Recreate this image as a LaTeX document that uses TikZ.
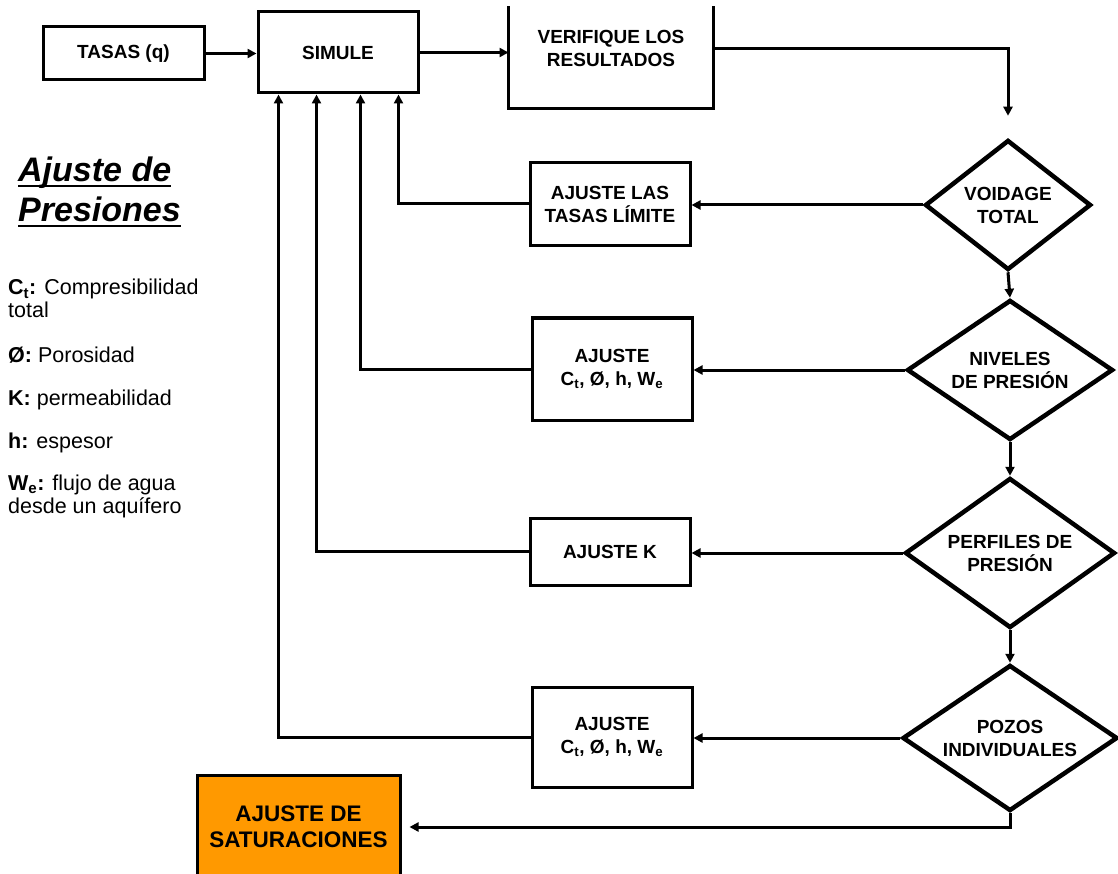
\documentclass[tikz,border=0pt]{standalone}
\usepackage{fontspec}
\setmainfont{Liberation Sans}
\usetikzlibrary{arrows.meta,shapes.geometric,positioning,calc}
\definecolor{ajNaranja}{HTML}{FF9900}

\begin{document}
\begin{tikzpicture}[x=1pt,y=-1pt,
  caja/.style={draw, line width=3pt, inner sep=0pt, align=center,
    font=\fontsize{19}{23}\selectfont\bfseries},
  rombo/.style={draw, diamond, aspect=1.5, line width=4.5pt, inner sep=0pt, align=center,
    font=\fontsize{19}{23}\selectfont\bfseries},
  flecha/.style={line width=3pt, -{Triangle[length=9pt,width=9pt]}},
  ley/.style={anchor=base west, inner sep=0pt, font=\fontsize{21.5}{24}\selectfont},
  titulo/.style={anchor=base west, inner sep=0pt, font=\fontsize{34}{40}\selectfont\bfseries\itshape}]
  \useasboundingbox (0,0) rectangle (1118,874);
  \clip (0,0) rectangle (1118,874);
  \fill[white] (0,0) rectangle (1118,874);

  % top row
  \node[caja, minimum width=161, minimum height=53] (tasas) at (123.5,53.5) {TASAS (q)};
  \node[caja, minimum width=160, minimum height=81] (simule) at (338,52.5) {SIMULE};
  \node[caja, draw=none, minimum width=202, minimum height=117] (verif) at (611,48.5) {VERIFIQUE LOS\\RESULTADOS};
  \draw[line width=3pt] ($(verif.north west)+(0,18)$) -- (verif.south west)
    -- (verif.south east) -- ($(verif.north east)+(0,18)$);

  % checks on the right
  \node[rombo, minimum width=166, minimum height=130] (voidage) at (1008,205) {VOIDAGE\\TOTAL};
  \node[rombo, minimum width=206, minimum height=140] (niveles) at (1010,370) {NIVELES\\DE PRESIÓN};
  \node[rombo, minimum width=210, minimum height=150] (perfiles) at (1010,553) {PERFILES DE\\PRESIÓN};
  \node[rombo, minimum width=215, minimum height=146] (pozos) at (1010,738) {POZOS\\INDIVIDUALES};

  % adjustments
  \node[caja, minimum width=160, minimum height=83] (ajtasas) at (610,204) {AJUSTE LAS\\TASAS LÍMITE};
  \node[caja, minimum width=160, minimum height=102] (ajct) at (612,369) {AJUSTE\\C\textsubscript{t}, Ø, h, W\textsubscript{e}};
  \node[caja, minimum width=160, minimum height=67] (ajk) at (610,551.5) {AJUSTE K};
  \node[caja, minimum width=160, minimum height=100] (ajpozos) at (612,737) {AJUSTE\\C\textsubscript{t}, Ø, h, W\textsubscript{e}};
  \node[caja, fill=ajNaranja, minimum width=203, minimum height=104,
    font=\fontsize{22.5}{26}\selectfont\bfseries] (satur) at (298.5,827) {AJUSTE DE\\SATURACIONES};

  % inputs under SIMULE
  \foreach \i/\dx in {1/22, 2/60, 3/104, 4/142}
    \coordinate (in\i) at ($(simule.south west)+(\dx,0)$);

  \draw[flecha] (tasas.east) -- (tasas.east -| simule.west);
  \draw[flecha] (simule.east) -- (simule.east -| verif.west);
  \draw[flecha, shorten >=22pt] (verif.east) -| (voidage.north);
  \draw[flecha] (voidage.south) -- (niveles.north);
  \draw[flecha] (niveles.south) -- (perfiles.north);
  \draw[flecha] (perfiles.south) -- (pozos.north);
  \draw[flecha] (voidage.west) -- (voidage.west -| ajtasas.east);
  \draw[flecha] (niveles.west) -- (niveles.west -| ajct.east);
  \draw[flecha] (perfiles.west) -- (perfiles.west -| ajk.east);
  \draw[flecha] (pozos.west) -- (pozos.west -| ajpozos.east);
  \draw[flecha] (ajtasas.west) -| (in4);
  \draw[flecha] (ajct.west) -| (in3);
  \draw[flecha] (ajk.west) -| (in2);
  \draw[flecha] (ajpozos.west) -| (in1);
  \draw[flecha, shorten >=8pt] (pozos.south) |- (satur.east);

  % legend
  \node[titulo] (tit1) at (18,182) {Ajuste de};
  \node[titulo] (tit2) at (18,222) {Presiones};
  \draw[line width=2.5pt] ($(tit1.base west)+(0,4)$) -- ($(tit1.base east)+(0,4)$);
  \draw[line width=2.5pt] ($(tit2.base west)+(0,4)$) -- ($(tit2.base east)+(0,4)$);
  \foreach \y/\txt [count=\i] in {
    295/{\textbf{C\textsubscript{t}:} Compresibilidad},
    318/{total},
    362/{\textbf{Ø:} Porosidad},
    405/{\textbf{K:} permeabilidad},
    448/{\textbf{h:} espesor},
    490/{\textbf{W\textsubscript{e}:} flujo de agua},
    513/{desde un aquífero}}
    \node[ley] (ley\i) at (8,\y) {\txt};
\end{tikzpicture}
\end{document}
